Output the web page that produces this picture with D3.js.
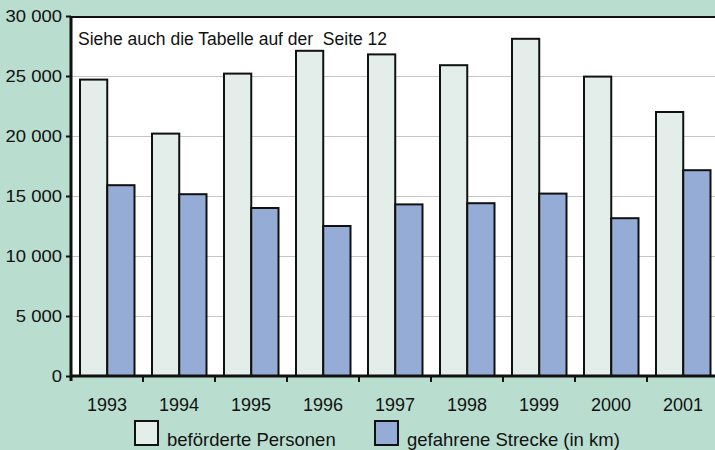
<!DOCTYPE html>
<html>
<head>
<meta charset="utf-8">
<script src="https://cdn.jsdelivr.net/npm/d3@7"></script>
<style>
  html, body { margin: 0; padding: 0; background: #b9decf; }
  svg { display: block; font-family: "Liberation Sans", Arial, sans-serif; }
</style>
</head>
<body>
<svg id="chart" width="715" height="450"></svg>
<script>
// Werte
const years = ["1993", "1994", "1995", "1996", "1997", "1998", "1999", "2000", "2001"];
const personen = [24700, 20200, 25200, 27100, 26800, 25900, 28100, 24950, 22000];
const strecke = [15900, 15150, 14000, 12500, 14300, 14400, 15200, 13150, 17150];
const seriesNames = ["beförderte Personen", "gefahrene Strecke (in km)"];
const yTicks = [0, 5000, 10000, 15000, 20000, 25000, 30000];
const note = "Siehe auch die Tabelle auf der  Seite 12";

const colors = ["#e3edea", "#95acd6"];

const plotLeft = 71, plotTop = 16, plotRight = 719, plotBottom = 376;

const svg = d3.select('#chart');

const locale = d3.formatLocale({decimal: ",", thousands: " ", grouping: [3], currency: ["", ""]});
const fmt = locale.format(",");

const x0 = d3.scaleBand().domain(years).range([plotLeft, plotRight]).padding(0);
const x1 = d3.scaleBand().domain([0, 1]).range([9, x0.bandwidth() - 8.5]).padding(0);
const y = d3.scaleLinear().domain([0, 30000]).range([plotBottom, plotTop]);

// Plotfläche
svg.append('rect')
   .attr('x', plotLeft).attr('y', plotTop)
   .attr('width', plotRight - plotLeft).attr('height', plotBottom - plotTop)
   .attr('fill', '#ffffff');

// Gitternetz
svg.append('g')
   .selectAll('line')
   .data(yTicks.filter(d => d > 0 && d < 30000))
   .join('line')
   .attr('x1', plotLeft).attr('x2', plotRight)
   .attr('y1', d => y(d) + 0.5).attr('y2', d => y(d) + 0.5)
   .attr('stroke', '#c6c6c6')
   .attr('stroke-width', 1);

// Oberer Rahmen
svg.append('line')
   .attr('x1', plotLeft).attr('x2', plotRight)
   .attr('y1', plotTop + 1).attr('y2', plotTop + 1)
   .attr('stroke', '#111')
   .attr('stroke-width', 2);

// Balken
const data = years.map((yr, i) => ({year: yr, values: [personen[i], strecke[i]]}));

const groups = svg.append('g')
   .selectAll('g')
   .data(data)
   .join('g')
   .attr('transform', d => 'translate(' + x0(d.year) + ',0)');

groups.selectAll('rect')
   .data(d => d.values.map((v, k) => ({k: k, v: v})))
   .join('rect')
   .attr('x', d => x1(d.k))
   .attr('y', d => y(d.v))
   .attr('width', x1.bandwidth())
   .attr('height', d => plotBottom - y(d.v))
   .attr('fill', d => colors[d.k])
   .attr('stroke', '#111')
   .attr('stroke-width', 2);

// Hinweistext
svg.append('text')
   .attr('x', 78).attr('y', 45)
   .style('font-size', '17.5px')
   .attr('fill', '#111')
   .attr('xml:space', 'preserve')
   .style('white-space', 'pre')
   .text(note);

// Y-Achse
const yAxis = svg.append('g')
   .attr('transform', 'translate(' + plotLeft + ',0)')
   .call(d3.axisLeft(y).tickValues(yTicks).tickFormat(fmt).tickSize(5).tickPadding(3));
yAxis.select('.domain').remove();
yAxis.selectAll('.tick line').attr('stroke', '#111').attr('stroke-width', 2);
yAxis.selectAll('.tick text')
   .style('font-size', '16.5px')
   .style('font-family', '"Liberation Sans", Arial, sans-serif')
   .attr('transform', 'scale(1.12,1)')
   .attr('fill', '#111');

svg.append('line')
   .attr('x1', plotLeft).attr('x2', plotLeft)
   .attr('y1', plotTop).attr('y2', plotBottom + 5)
   .attr('stroke', '#111')
   .attr('stroke-width', 3);

// X-Achse
const xAxis = svg.append('g')
   .attr('transform', 'translate(0,' + plotBottom + ')')
   .call(d3.axisBottom(x0).tickSize(0).tickPadding(22));
xAxis.select('.domain').remove();
xAxis.selectAll('.tick text')
   .style('font-size', '18px')
   .style('font-family', '"Liberation Sans", Arial, sans-serif')
   .attr('fill', '#111');

svg.append('g')
   .selectAll('line')
   .data(years.slice(1))
   .join('line')
   .attr('x1', d => x0(d)).attr('x2', d => x0(d))
   .attr('y1', plotBottom).attr('y2', plotBottom + 6)
   .attr('stroke', '#111')
   .attr('stroke-width', 2);

svg.append('line')
   .attr('x1', plotLeft - 1).attr('x2', plotRight)
   .attr('y1', plotBottom).attr('y2', plotBottom)
   .attr('stroke', '#111')
   .attr('stroke-width', 3);

// Legende
const legendX = [135, 375];
const legend = svg.append('g').attr('class', 'legend');
seriesNames.forEach((name, k) => {
  legend.append('rect')
        .attr('x', legendX[k]).attr('y', 421)
        .attr('width', 23).attr('height', 24)
        .attr('fill', colors[k])
        .attr('stroke', '#111')
        .attr('stroke-width', 2);
  legend.append('text')
        .attr('x', legendX[k] + 32).attr('y', 446)
        .style('font-size', '18.5px')
        .attr('fill', '#111')
        .text(name);
});
</script>
</body>
</html>
